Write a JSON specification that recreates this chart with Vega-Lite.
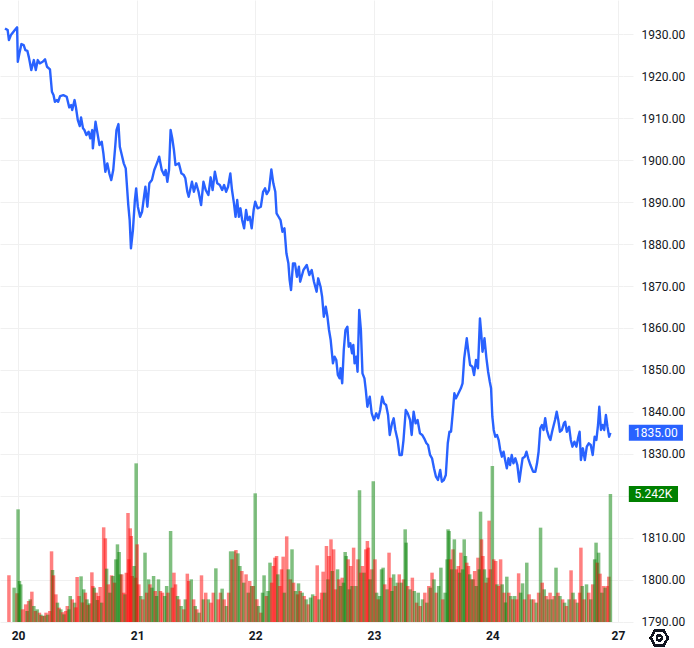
{
  "$schema": "https://vega.github.io/schema/vega-lite/v6.json",
  "width": 623,
  "height": 622,
  "autosize": "none",
  "padding": {"left": 0, "top": 0, "right": 71, "bottom": 26},
  "background": "#ffffff",
  "config": {"view": {"stroke": null}, "font": "Roboto"},
  "datasets": {
    "price": [
      {"t":0,"p":1931.43},{"t":2.7,"p":1931.03},{"t":4,"p":1928.64},{"t":6,"p":1929.84},{"t":10,"p":1931.03},
      {"t":12.3,"p":1931.67},{"t":13,"p":1923.47},{"t":14.7,"p":1925.55},{"t":16.7,"p":1927.69},{"t":19,"p":1927.45},
      {"t":20.7,"p":1926.26},{"t":22.7,"p":1926.09},{"t":24.3,"p":1924.52},{"t":26.7,"p":1921.49},{"t":29.3,"p":1923.88},
      {"t":31.3,"p":1921.49},{"t":33.3,"p":1923.88},{"t":35.3,"p":1923.09},{"t":38.3,"p":1923.47},{"t":40.7,"p":1924.04},
      {"t":42.7,"p":1922.28},{"t":45.7,"p":1921.66},{"t":47.7,"p":1916.32},{"t":49.3,"p":1915.53},{"t":50.7,"p":1913.94},
      {"t":52.7,"p":1914.34},{"t":54,"p":1913.94},{"t":56,"p":1915.3},{"t":59.3,"p":1915.53},{"t":62.7,"p":1915.13},
      {"t":65.3,"p":1912.6},{"t":67.3,"p":1913.15},{"t":68.3,"p":1911.96},{"t":70.7,"p":1914.34},{"t":72,"p":1912.75},
      {"t":74,"p":1909.57},{"t":76,"p":1908.14},{"t":77.3,"p":1910.22},{"t":79.3,"p":1907.6},{"t":80.7,"p":1907.19},
      {"t":82.7,"p":1906.0},{"t":85,"p":1906.79},{"t":86.7,"p":1905.21},{"t":88.7,"p":1907.19},{"t":89.3,"p":1902.83},
      {"t":92,"p":1909.17},{"t":94,"p":1906.4},{"t":96,"p":1903.62},{"t":98.3,"p":1904.4},{"t":100,"p":1901.64},
      {"t":102,"p":1897.25},{"t":104,"p":1899.25},{"t":106,"p":1896.87},{"t":108,"p":1895.27},{"t":110,"p":1897.66},
      {"t":112,"p":1903.21},{"t":113.3,"p":1907.19},{"t":115.3,"p":1908.62},{"t":116.7,"p":1903.21},{"t":118.7,"p":1901.23},
      {"t":120.7,"p":1899.25},{"t":122.7,"p":1898.06},{"t":124,"p":1893.67},{"t":125.3,"p":1889.31},{"t":126.7,"p":1885.74},
      {"t":128,"p":1878.99},{"t":130,"p":1883.35},{"t":132,"p":1890.5},{"t":133.3,"p":1893.29},{"t":135,"p":1888.91},
      {"t":137.3,"p":1886.52},{"t":139.3,"p":1887.72},{"t":141.3,"p":1891.29},{"t":142.7,"p":1893.67},{"t":144.7,"p":1888.91},
      {"t":146.7,"p":1894.49},{"t":149.3,"p":1895.27},{"t":151.7,"p":1897.66},{"t":155,"p":1899.63},{"t":156.7,"p":1900.83},
      {"t":159.3,"p":1897.66},{"t":161.7,"p":1896.46},{"t":163.3,"p":1897.66},{"t":165,"p":1894.87},{"t":166.7,"p":1897.66},
      {"t":168.3,"p":1907.19},{"t":170,"p":1905.21},{"t":171.7,"p":1902.42},{"t":173.3,"p":1898.85},{"t":176.7,"p":1899.25},
      {"t":179.3,"p":1896.87},{"t":181.7,"p":1896.46},{"t":183.3,"p":1895.68},{"t":185.3,"p":1892.48},{"t":186.7,"p":1891.29},
      {"t":190,"p":1894.87},{"t":192,"p":1892.48},{"t":194.3,"p":1894.49},{"t":196.7,"p":1892.48},{"t":199.3,"p":1889.31},
      {"t":201.7,"p":1894.87},{"t":204,"p":1892.89},{"t":206.7,"p":1891.7},{"t":209,"p":1895.92},{"t":211,"p":1892.89},
      {"t":213.3,"p":1897.25},{"t":215.7,"p":1894.49},{"t":218.3,"p":1894.08},{"t":220.7,"p":1892.89},{"t":222.7,"p":1894.08},
      {"t":224.7,"p":1892.48},{"t":226.7,"p":1893.67},{"t":229,"p":1896.87},{"t":230.7,"p":1892.89},{"t":232.7,"p":1889.72},
      {"t":234.3,"p":1886.52},{"t":236,"p":1890.5},{"t":237.7,"p":1886.52},{"t":239.3,"p":1888.53},{"t":241,"p":1885.74},
      {"t":243,"p":1883.76},{"t":245,"p":1888.12},{"t":246.7,"p":1885.74},{"t":248.7,"p":1886.52},{"t":250.7,"p":1883.76},
      {"t":252.7,"p":1888.12},{"t":254.3,"p":1890.1},{"t":256.7,"p":1888.53},{"t":260,"p":1888.91},{"t":262.3,"p":1892.48},
      {"t":264.3,"p":1893.29},{"t":266,"p":1891.93},{"t":268.3,"p":1892.89},{"t":270.7,"p":1897.82},{"t":272.7,"p":1894.49},
      {"t":274.7,"p":1892.48},{"t":276,"p":1887.33},{"t":278,"p":1886.52},{"t":280,"p":1885.74},{"t":282,"p":1882.95},
      {"t":284,"p":1883.76},{"t":286,"p":1877.8},{"t":288,"p":1875.41},{"t":289.3,"p":1871.43},{"t":290.7,"p":1869.05},
      {"t":292.7,"p":1875.41},{"t":294.7,"p":1875.41},{"t":296.7,"p":1872.22},{"t":298.7,"p":1874.6},{"t":300,"p":1871.03},
      {"t":303.3,"p":1873.82},{"t":306.7,"p":1875.01},{"t":309.3,"p":1872.63},{"t":311.7,"p":1873.82},{"t":314,"p":1871.03},
      {"t":316.7,"p":1868.65},{"t":318.3,"p":1871.84},{"t":320.7,"p":1869.84},{"t":322.3,"p":1867.45},{"t":324,"p":1862.69},
      {"t":326,"p":1865.07},{"t":327.7,"p":1862.69},{"t":329.3,"p":1859.52},{"t":331,"p":1857.13},{"t":332.3,"p":1853.96},
      {"t":333.3,"p":1851.58},{"t":335,"p":1853.15},{"t":336.7,"p":1852.36},{"t":338.3,"p":1848.79},{"t":340,"p":1848.0},
      {"t":341,"p":1850.39},{"t":342.7,"p":1846.81},{"t":344.3,"p":1854.75},{"t":346,"p":1859.52},{"t":348,"p":1860.3},
      {"t":349.3,"p":1855.53},{"t":351,"p":1856.34},{"t":352.7,"p":1853.96},{"t":354,"p":1855.94},{"t":355.3,"p":1851.58},
      {"t":357,"p":1853.15},{"t":358.3,"p":1849.57},{"t":360,"p":1864.28},{"t":361.7,"p":1859.52},{"t":363.3,"p":1849.19},
      {"t":365.3,"p":1848.0},{"t":366.7,"p":1845.21},{"t":368.3,"p":1841.23},{"t":370.7,"p":1843.62},{"t":372.7,"p":1839.66},
      {"t":375,"p":1838.06},{"t":377.3,"p":1839.66},{"t":379.3,"p":1838.47},{"t":381.3,"p":1840.44},{"t":383.3,"p":1843.62},
      {"t":385.3,"p":1842.04},{"t":387.3,"p":1841.64},{"t":389.3,"p":1839.25},{"t":391,"p":1834.49},{"t":393.3,"p":1837.27},
      {"t":395,"p":1838.47},{"t":396.7,"p":1835.68},{"t":399,"p":1833.29},{"t":401,"p":1829.72},{"t":403.3,"p":1829.72},
      {"t":405,"p":1833.29},{"t":407.3,"p":1840.44},{"t":409.3,"p":1839.66},{"t":411.7,"p":1838.06},{"t":413.3,"p":1834.49},
      {"t":415.3,"p":1840.04},{"t":417.3,"p":1837.27},{"t":419.3,"p":1838.06},{"t":421.7,"p":1834.89},{"t":424,"p":1834.49},
      {"t":426,"p":1833.7},{"t":428.3,"p":1832.51},{"t":430,"p":1832.1},{"t":432,"p":1829.72},{"t":434,"p":1828.93},
      {"t":436,"p":1826.55},{"t":438,"p":1824.54},{"t":440,"p":1823.76},{"t":442.3,"p":1826.14},{"t":444,"p":1823.35},
      {"t":446,"p":1823.76},{"t":448,"p":1824.95},{"t":450,"p":1832.51},{"t":451.7,"p":1835.27},{"t":453.3,"p":1835.27},
      {"t":455,"p":1839.66},{"t":456.7,"p":1844.43},{"t":458.3,"p":1843.23},{"t":460,"p":1844.02},{"t":463.3,"p":1845.62},
      {"t":465,"p":1846.81},{"t":466.7,"p":1852.77},{"t":469.3,"p":1857.54},{"t":470.7,"p":1854.75},{"t":472.7,"p":1851.17},
      {"t":475,"p":1850.77},{"t":476.7,"p":1848.79},{"t":478.7,"p":1852.36},{"t":480.7,"p":1850.39},{"t":482.7,"p":1862.3},
      {"t":484,"p":1858.73},{"t":485.3,"p":1854.34},{"t":487.3,"p":1857.54},{"t":489.3,"p":1852.77},{"t":491,"p":1849.57},
      {"t":492.7,"p":1847.19},{"t":494,"p":1845.62},{"t":495.3,"p":1838.85},{"t":496.7,"p":1835.68},{"t":498.3,"p":1834.08},
      {"t":500,"p":1834.49},{"t":501.7,"p":1833.29},{"t":503.3,"p":1830.91},{"t":505,"p":1829.31},{"t":506.7,"p":1830.5},
      {"t":508.3,"p":1828.52},{"t":510,"p":1826.55},{"t":511.7,"p":1828.93},{"t":513.3,"p":1827.33},{"t":515,"p":1829.72},
      {"t":516.7,"p":1827.74},{"t":518.7,"p":1828.93},{"t":520.7,"p":1827.33},{"t":522.7,"p":1823.35},{"t":524.3,"p":1826.14},
      {"t":526,"p":1828.93},{"t":528.3,"p":1829.31},{"t":530,"p":1830.5},{"t":531.7,"p":1828.93},{"t":534,"p":1827.33},
      {"t":536.7,"p":1825.74},{"t":539,"p":1825.74},{"t":540.7,"p":1827.74},{"t":542.3,"p":1830.5},{"t":544,"p":1836.08},
      {"t":545.7,"p":1836.87},{"t":547.3,"p":1835.68},{"t":549,"p":1838.47},{"t":550.7,"p":1835.68},{"t":552.7,"p":1834.08},
      {"t":554.3,"p":1833.29},{"t":556,"p":1835.27},{"t":557.7,"p":1836.87},{"t":559,"p":1838.06},{"t":560.7,"p":1840.04},
      {"t":562.3,"p":1838.06},{"t":564,"p":1835.27},{"t":566,"p":1835.68},{"t":568,"p":1837.27},{"t":569.3,"p":1837.66},
      {"t":571,"p":1835.27},{"t":573.3,"p":1836.46},{"t":575,"p":1833.29},{"t":576.7,"p":1831.7},{"t":578.7,"p":1832.89},
      {"t":580.7,"p":1831.7},{"t":582.7,"p":1834.08},{"t":584,"p":1835.27},{"t":585.3,"p":1828.52},{"t":587.3,"p":1831.31},
      {"t":589.3,"p":1828.52},{"t":591.3,"p":1831.7},{"t":593.3,"p":1832.51},{"t":595.3,"p":1832.1},{"t":597.3,"p":1829.72},
      {"t":599.3,"p":1834.08},{"t":601,"p":1833.29},{"t":602.7,"p":1836.87},{"t":604,"p":1841.23},{"t":605.7,"p":1835.68},
      {"t":607.3,"p":1836.87},{"t":609,"p":1835.68},{"t":610.7,"p":1839.25},{"t":612.3,"p":1836.46},{"t":614,"p":1834.08},
      {"t":615.3,"p":1835.0}
    ],
    "volume": [
      {"t":4,"v":1911,"dir":"dn"},{"t":9.3,"v":1406,"dir":"up"},{"t":12.3,"v":1174,"dir":"dn"},{"t":13.3,"v":4614,"dir":"up"},
      {"t":14.7,"v":1679,"dir":"up"},{"t":16,"v":1542,"dir":"up"},{"t":18,"v":520,"dir":"dn"},{"t":21,"v":723,"dir":"dn"},
      {"t":22.5,"v":450,"dir":"up"},{"t":24,"v":860,"dir":"dn"},{"t":25.7,"v":928,"dir":"up"},{"t":27.3,"v":1242,"dir":"dn"},
      {"t":29.3,"v":655,"dir":"up"},{"t":31,"v":450,"dir":"dn"},{"t":32.7,"v":519,"dir":"up"},{"t":35,"v":382,"dir":"dn"},
      {"t":36.5,"v":300,"dir":"up"},{"t":38,"v":246,"dir":"dn"},{"t":40,"v":260,"dir":"up"},{"t":41.7,"v":382,"dir":"dn"},
      {"t":43.5,"v":300,"dir":"up"},{"t":45.5,"v":450,"dir":"dn"},{"t":47.3,"v":2894,"dir":"dn"},{"t":48.3,"v":2129,"dir":"up"},
      {"t":49.3,"v":1911,"dir":"dn"},{"t":51.7,"v":1133,"dir":"dn"},{"t":53.3,"v":792,"dir":"up"},{"t":55,"v":587,"dir":"dn"},
      {"t":56.7,"v":519,"dir":"up"},{"t":58.5,"v":400,"dir":"dn"},{"t":60,"v":314,"dir":"up"},{"t":61.7,"v":450,"dir":"dn"},
      {"t":63.3,"v":655,"dir":"dn"},{"t":65,"v":520,"dir":"up"},{"t":66.3,"v":1065,"dir":"up"},{"t":68.3,"v":928,"dir":"dn"},
      {"t":70.7,"v":792,"dir":"up"},{"t":72,"v":600,"dir":"dn"},{"t":73.3,"v":1843,"dir":"dn"},{"t":75.3,"v":1065,"dir":"dn"},
      {"t":77.3,"v":1870,"dir":"up"},{"t":78.7,"v":800,"dir":"dn"},{"t":80,"v":1338,"dir":"up"},{"t":81.7,"v":1201,"dir":"dn"},
      {"t":83.3,"v":928,"dir":"up"},{"t":84.7,"v":700,"dir":"dn"},{"t":86,"v":764,"dir":"up"},{"t":88.3,"v":2034,"dir":"dn"},
      {"t":89.3,"v":1474,"dir":"dn"},{"t":90.7,"v":1406,"dir":"up"},{"t":92.7,"v":1201,"dir":"dn"},{"t":94,"v":900,"dir":"up"},
      {"t":95,"v":1065,"dir":"dn"},{"t":96.7,"v":1433,"dir":"dn"},{"t":98.3,"v":792,"dir":"up"},{"t":100.3,"v":3877,"dir":"dn"},
      {"t":102,"v":3426,"dir":"dn"},{"t":103.3,"v":2184,"dir":"up"},{"t":105,"v":1542,"dir":"dn"},{"t":106.7,"v":1201,"dir":"up"},
      {"t":108.3,"v":1911,"dir":"dn"},{"t":109.7,"v":1884,"dir":"up"},{"t":111.3,"v":1611,"dir":"dn"},{"t":112.7,"v":2566,"dir":"up"},
      {"t":114.3,"v":3180,"dir":"up"},{"t":116,"v":2866,"dir":"up"},{"t":117.3,"v":1952,"dir":"up"},{"t":118.7,"v":1952,"dir":"dn"},
      {"t":120.7,"v":1201,"dir":"dn"},{"t":122,"v":1133,"dir":"up"},{"t":123.3,"v":2020,"dir":"dn"},{"t":125,"v":4464,"dir":"dn"},
      {"t":126,"v":2566,"dir":"dn"},{"t":127.3,"v":3836,"dir":"dn"},{"t":128.3,"v":3522,"dir":"dn"},{"t":129.3,"v":1884,"dir":"dn"},
      {"t":131.3,"v":2293,"dir":"up"},{"t":132.7,"v":1815,"dir":"dn"},{"t":133.3,"v":6497,"dir":"up"},{"t":134.3,"v":3180,"dir":"dn"},
      {"t":136,"v":1542,"dir":"dn"},{"t":138,"v":1065,"dir":"up"},{"t":140,"v":928,"dir":"dn"},{"t":142.3,"v":2839,"dir":"up"},
      {"t":144,"v":1201,"dir":"dn"},{"t":146,"v":1747,"dir":"up"},{"t":147.3,"v":1542,"dir":"dn"},{"t":149.3,"v":1406,"dir":"up"},
      {"t":151,"v":1884,"dir":"up"},{"t":152.7,"v":1269,"dir":"dn"},{"t":154,"v":1065,"dir":"up"},{"t":156,"v":1747,"dir":"up"},
      {"t":158,"v":1269,"dir":"dn"},{"t":160,"v":1201,"dir":"dn"},{"t":162.3,"v":1065,"dir":"up"},{"t":164.3,"v":1474,"dir":"up"},
      {"t":165.7,"v":1201,"dir":"dn"},{"t":168.3,"v":3726,"dir":"up"},{"t":170,"v":1406,"dir":"dn"},{"t":171.7,"v":2020,"dir":"dn"},
      {"t":173.3,"v":1542,"dir":"dn"},{"t":175.3,"v":1065,"dir":"up"},{"t":176.7,"v":928,"dir":"dn"},{"t":179,"v":655,"dir":"up"},
      {"t":181.7,"v":519,"dir":"dn"},{"t":183.3,"v":928,"dir":"up"},{"t":185.3,"v":1979,"dir":"dn"},{"t":186.7,"v":1679,"dir":"dn"},
      {"t":189.3,"v":1747,"dir":"up"},{"t":191.7,"v":928,"dir":"dn"},{"t":193.3,"v":655,"dir":"up"},{"t":195,"v":519,"dir":"dn"},
      {"t":197.3,"v":382,"dir":"up"},{"t":199.7,"v":1911,"dir":"dn"},{"t":201.7,"v":928,"dir":"up"},{"t":204,"v":1201,"dir":"dn"},
      {"t":206.7,"v":928,"dir":"up"},{"t":209.3,"v":792,"dir":"dn"},{"t":211.7,"v":1201,"dir":"dn"},{"t":214.3,"v":2198,"dir":"up"},
      {"t":216.7,"v":928,"dir":"dn"},{"t":219,"v":1201,"dir":"dn"},{"t":220.7,"v":1365,"dir":"up"},{"t":222.7,"v":928,"dir":"dn"},
      {"t":225,"v":655,"dir":"up"},{"t":227.3,"v":1201,"dir":"dn"},{"t":229.3,"v":2894,"dir":"up"},{"t":230.7,"v":2566,"dir":"dn"},
      {"t":232.7,"v":2894,"dir":"up"},{"t":234.7,"v":2948,"dir":"dn"},{"t":236.7,"v":2812,"dir":"up"},{"t":238.7,"v":2293,"dir":"up"},
      {"t":240.7,"v":2088,"dir":"dn"},{"t":242.7,"v":1611,"dir":"up"},{"t":245,"v":1952,"dir":"dn"},{"t":247.3,"v":1201,"dir":"up"},
      {"t":248.7,"v":1679,"dir":"dn"},{"t":250.7,"v":1474,"dir":"up"},{"t":252.3,"v":1474,"dir":"dn"},{"t":254.3,"v":5269,"dir":"up"},
      {"t":256,"v":928,"dir":"dn"},{"t":257.7,"v":655,"dir":"up"},{"t":260,"v":382,"dir":"dn"},{"t":261.7,"v":1201,"dir":"up"},
      {"t":263.3,"v":1911,"dir":"up"},{"t":265.7,"v":1065,"dir":"dn"},{"t":267.3,"v":1269,"dir":"up"},{"t":269.3,"v":2430,"dir":"up"},
      {"t":271,"v":1611,"dir":"dn"},{"t":272.7,"v":2293,"dir":"dn"},{"t":274.3,"v":2634,"dir":"dn"},{"t":276,"v":2703,"dir":"dn"},
      {"t":277.3,"v":1952,"dir":"up"},{"t":279.3,"v":1474,"dir":"dn"},{"t":281,"v":2157,"dir":"dn"},{"t":282.7,"v":2675,"dir":"dn"},
      {"t":284,"v":1201,"dir":"up"},{"t":286.3,"v":3508,"dir":"dn"},{"t":288,"v":2157,"dir":"up"},{"t":290,"v":1747,"dir":"dn"},
      {"t":291.7,"v":2976,"dir":"up"},{"t":293.3,"v":1611,"dir":"dn"},{"t":295.3,"v":1269,"dir":"up"},{"t":297.3,"v":1133,"dir":"dn"},
      {"t":298.3,"v":1583,"dir":"up"},{"t":300,"v":1269,"dir":"dn"},{"t":302,"v":1201,"dir":"up"},{"t":304,"v":1065,"dir":"dn"},
      {"t":306,"v":928,"dir":"up"},{"t":308.3,"v":723,"dir":"dn"},{"t":310.5,"v":1000,"dir":"up"},{"t":312.7,"v":1133,"dir":"up"},
      {"t":315,"v":1065,"dir":"dn"},{"t":317.3,"v":2321,"dir":"dn"},{"t":319.3,"v":928,"dir":"up"},{"t":321.7,"v":1201,"dir":"dn"},
      {"t":323.3,"v":2061,"dir":"dn"},{"t":325,"v":1201,"dir":"up"},{"t":326.7,"v":3112,"dir":"dn"},{"t":328.3,"v":1747,"dir":"up"},
      {"t":329.3,"v":2703,"dir":"dn"},{"t":331.3,"v":3385,"dir":"dn"},{"t":332.7,"v":2088,"dir":"up"},{"t":334,"v":2976,"dir":"dn"},
      {"t":336,"v":1338,"dir":"dn"},{"t":338,"v":2157,"dir":"up"},{"t":339.3,"v":1747,"dir":"dn"},{"t":341,"v":1474,"dir":"up"},
      {"t":342.7,"v":1815,"dir":"dn"},{"t":344,"v":1611,"dir":"up"},{"t":345.7,"v":2867,"dir":"up"},{"t":346.7,"v":2703,"dir":"up"},
      {"t":348.7,"v":2566,"dir":"dn"},{"t":350,"v":1338,"dir":"up"},{"t":351.3,"v":2293,"dir":"dn"},{"t":352.7,"v":1474,"dir":"up"},
      {"t":354.3,"v":3044,"dir":"dn"},{"t":356.7,"v":1474,"dir":"up"},{"t":358.7,"v":2566,"dir":"dn"},{"t":360.3,"v":5392,"dir":"up"},
      {"t":361.7,"v":2020,"dir":"dn"},{"t":363.3,"v":2293,"dir":"dn"},{"t":365,"v":2020,"dir":"up"},{"t":366.7,"v":2976,"dir":"dn"},
      {"t":368.3,"v":3317,"dir":"dn"},{"t":369.3,"v":3044,"dir":"dn"},{"t":371,"v":1747,"dir":"up"},{"t":372.7,"v":2157,"dir":"dn"},
      {"t":374.3,"v":5760,"dir":"up"},{"t":376,"v":2566,"dir":"dn"},{"t":377.7,"v":1201,"dir":"up"},{"t":379.3,"v":928,"dir":"dn"},
      {"t":380.7,"v":1065,"dir":"up"},{"t":382.7,"v":2157,"dir":"up"},{"t":384.3,"v":2225,"dir":"up"},{"t":386,"v":1542,"dir":"dn"},
      {"t":388.3,"v":1338,"dir":"up"},{"t":390.3,"v":2839,"dir":"dn"},{"t":392,"v":1815,"dir":"dn"},{"t":393.3,"v":1269,"dir":"up"},
      {"t":395,"v":1952,"dir":"up"},{"t":396.7,"v":1474,"dir":"dn"},{"t":398.7,"v":1611,"dir":"up"},{"t":400.7,"v":1952,"dir":"dn"},
      {"t":402.7,"v":1611,"dir":"up"},{"t":405,"v":1747,"dir":"dn"},{"t":406.7,"v":3795,"dir":"up"},{"t":407.7,"v":3249,"dir":"up"},
      {"t":409.3,"v":1474,"dir":"dn"},{"t":411.7,"v":1338,"dir":"up"},{"t":414,"v":1815,"dir":"dn"},{"t":416,"v":1269,"dir":"up"},
      {"t":418.3,"v":792,"dir":"dn"},{"t":420,"v":1201,"dir":"up"},{"t":422,"v":655,"dir":"dn"},{"t":424.3,"v":928,"dir":"up"},
      {"t":426.7,"v":1201,"dir":"dn"},{"t":428.7,"v":792,"dir":"up"},{"t":430.7,"v":1474,"dir":"dn"},{"t":432.3,"v":1406,"dir":"up"},
      {"t":434,"v":2020,"dir":"dn"},{"t":436,"v":1747,"dir":"up"},{"t":438.3,"v":1201,"dir":"dn"},{"t":440.7,"v":1474,"dir":"up"},
      {"t":443,"v":2225,"dir":"up"},{"t":445,"v":928,"dir":"dn"},{"t":447.3,"v":1201,"dir":"up"},{"t":449.3,"v":2566,"dir":"up"},
      {"t":450.3,"v":3795,"dir":"up"},{"t":451.3,"v":3726,"dir":"up"},{"t":452.7,"v":2566,"dir":"dn"},{"t":454,"v":2157,"dir":"up"},
      {"t":455.3,"v":2976,"dir":"dn"},{"t":456.7,"v":3385,"dir":"up"},{"t":458.7,"v":2157,"dir":"dn"},{"t":460.7,"v":2293,"dir":"dn"},
      {"t":462,"v":2020,"dir":"up"},{"t":463.3,"v":2839,"dir":"dn"},{"t":465,"v":2157,"dir":"up"},{"t":466.7,"v":3385,"dir":"up"},
      {"t":468,"v":2703,"dir":"up"},{"t":469.3,"v":2430,"dir":"dn"},{"t":471,"v":2293,"dir":"dn"},{"t":472.3,"v":1952,"dir":"up"},
      {"t":474,"v":1747,"dir":"dn"},{"t":475.7,"v":1747,"dir":"up"},{"t":477.3,"v":2088,"dir":"dn"},{"t":479,"v":1474,"dir":"up"},
      {"t":480.7,"v":2634,"dir":"dn"},{"t":482,"v":2157,"dir":"up"},{"t":483.3,"v":4518,"dir":"up"},{"t":484.3,"v":3385,"dir":"dn"},
      {"t":485.7,"v":2703,"dir":"dn"},{"t":487.3,"v":2157,"dir":"up"},{"t":489,"v":1611,"dir":"dn"},{"t":490.7,"v":1815,"dir":"up"},
      {"t":492,"v":4150,"dir":"dn"},{"t":493.3,"v":2157,"dir":"dn"},{"t":495.3,"v":6388,"dir":"up"},{"t":496.7,"v":2566,"dir":"dn"},
      {"t":498.7,"v":2498,"dir":"dn"},{"t":500,"v":1542,"dir":"up"},{"t":501.7,"v":1474,"dir":"dn"},{"t":503.7,"v":2566,"dir":"dn"},
      {"t":505.3,"v":1542,"dir":"up"},{"t":507.3,"v":1201,"dir":"dn"},{"t":508.7,"v":800,"dir":"up"},{"t":510,"v":1856,"dir":"up"},
      {"t":512,"v":1201,"dir":"dn"},{"t":514,"v":1065,"dir":"up"},{"t":516,"v":928,"dir":"dn"},{"t":518,"v":1065,"dir":"up"},
      {"t":520,"v":928,"dir":"dn"},{"t":522,"v":1993,"dir":"dn"},{"t":524,"v":1201,"dir":"up"},{"t":526,"v":1583,"dir":"up"},
      {"t":528,"v":928,"dir":"dn"},{"t":530.3,"v":2430,"dir":"up"},{"t":532.7,"v":1133,"dir":"dn"},{"t":535,"v":928,"dir":"up"},
      {"t":537.3,"v":928,"dir":"dn"},{"t":540,"v":792,"dir":"up"},{"t":542.3,"v":1201,"dir":"dn"},{"t":544.3,"v":3863,"dir":"up"},
      {"t":546,"v":1611,"dir":"dn"},{"t":548,"v":1338,"dir":"up"},{"t":550,"v":1065,"dir":"dn"},{"t":552,"v":928,"dir":"up"},
      {"t":554,"v":1201,"dir":"dn"},{"t":556,"v":928,"dir":"up"},{"t":558,"v":1065,"dir":"dn"},{"t":560,"v":2225,"dir":"up"},
      {"t":562,"v":1201,"dir":"dn"},{"t":564,"v":1065,"dir":"up"},{"t":566.7,"v":928,"dir":"dn"},{"t":568.7,"v":792,"dir":"up"},
      {"t":570.7,"v":655,"dir":"dn"},{"t":573.3,"v":928,"dir":"up"},{"t":575.3,"v":2116,"dir":"dn"},{"t":577.3,"v":1201,"dir":"up"},
      {"t":579.3,"v":928,"dir":"dn"},{"t":581.7,"v":792,"dir":"up"},{"t":584,"v":1201,"dir":"dn"},{"t":585.3,"v":3044,"dir":"dn"},
      {"t":586.7,"v":1474,"dir":"up"},{"t":588.7,"v":928,"dir":"dn"},{"t":591,"v":1542,"dir":"up"},{"t":593.3,"v":1201,"dir":"dn"},
      {"t":595.3,"v":928,"dir":"up"},{"t":597.3,"v":1542,"dir":"dn"},{"t":599.3,"v":2566,"dir":"up"},{"t":600.7,"v":3249,"dir":"up"},
      {"t":602,"v":2430,"dir":"dn"},{"t":603.3,"v":2839,"dir":"up"},{"t":604.7,"v":1979,"dir":"dn"},{"t":606.7,"v":1201,"dir":"up"},
      {"t":608.3,"v":1474,"dir":"dn"},{"t":610,"v":1406,"dir":"up"},{"t":612,"v":1474,"dir":"dn"},{"t":613.7,"v":1856,"dir":"dn"},
      {"t":615.3,"v":5242,"dir":"up"}
    ]
  },
  "layer": [
    {
      "data": {"name": "volume"},
      "encoding": {
        "x": {
          "field": "t", "type": "quantitative",
          "scale": {"domain": [0, 623], "nice": false, "zero": false},
          "axis": {
            "values": [13.3, 134.3, 254.3, 375, 495.3, 623],
            "labelExpr": "datum.value < 50 ? '20' : datum.value < 200 ? '21' : datum.value < 300 ? '22' : datum.value < 420 ? '23' : datum.value < 550 ? '24' : '27'",
            "title": null, "grid": true, "gridColor": "#f0f0f0", "domain": false, "ticks": false,
            "labelFont": "Roboto", "labelFontSize": 12, "labelFontWeight": "bold", "labelColor": "#131722",
            "labelPadding": 8, "labelFlush": false, "zindex": 0
          }
        },
        "y": {"field": "v", "type": "quantitative", "scale": {"domain": [0, 25470], "nice": false}, "axis": null}
      },
      "layer": [
        {
          "mark": {"type": "bar", "width": 3.5, "opacity": 0.5},
          "encoding": {
            "color": {"field": "dir", "type": "nominal", "scale": {"domain": ["up", "dn"], "range": ["#008000", "#ff0000"]}, "legend": null}
          }
        },
        {
          "transform": [
            {"joinaggregate": [{"op": "max", "field": "t", "as": "tmax"}]},
            {"filter": "datum.t == datum.tmax"}
          ],
          "mark": {"type": "rule", "strokeWidth": 16, "color": "#008000"},
          "encoding": {"x": {"datum": 634, "type": "quantitative"}, "x2": {"datum": 684}}
        },
        {
          "transform": [
            {"joinaggregate": [{"op": "max", "field": "t", "as": "tmax"}]},
            {"filter": "datum.t == datum.tmax"},
            {"calculate": "format(datum.v / 1000, '.3f') + 'K'", "as": "lbl"}
          ],
          "mark": {"type": "text", "color": "#ffffff", "font": "Roboto", "fontSize": 12, "align": "center", "baseline": "middle"},
          "encoding": {"x": {"datum": 659, "type": "quantitative"}, "text": {"field": "lbl"}}
        }
      ]
    },
    {
      "data": {"name": "price"},
      "encoding": {
        "x": {
          "field": "t", "type": "quantitative",
          "scale": {"domain": [0, 623], "nice": false, "zero": false},
          "axis": {
            "values": [13.3, 134.3, 254.3, 375, 495.3, 623],
            "labelExpr": "datum.value < 50 ? '20' : datum.value < 200 ? '21' : datum.value < 300 ? '22' : datum.value < 420 ? '23' : datum.value < 550 ? '24' : '27'",
            "title": null, "grid": true, "gridColor": "#f0f0f0", "domain": false, "ticks": false,
            "labelFont": "Roboto", "labelFontSize": 12, "labelFontWeight": "bold", "labelColor": "#131722",
            "labelPadding": 8, "labelFlush": false, "zindex": 0
          }
        },
        "y": {
          "field": "p", "type": "quantitative",
          "scale": {"domain": [1789.9, 1938.2], "nice": false, "zero": false},
          "axis": {
            "orient": "right", "title": null,
            "values": [1790, 1800, 1810, 1820, 1830, 1840, 1850, 1860, 1870, 1880, 1890, 1900, 1910, 1920, 1930],
            "labelExpr": "datum.value == 1820 ? '' : format(datum.value, '.2f')",
            "grid": true, "gridColor": "#f0f0f0", "domain": false,
            "tickColor": "#f0f0f0", "tickSize": 10, "labelPadding": 8,
            "labelFont": "Roboto", "labelFontSize": 12, "labelColor": "#131722", "zindex": 0
          }
        }
      },
      "layer": [
        {"mark": {"type": "line", "color": "#2962ff", "strokeWidth": 2.4, "strokeJoin": "round", "interpolate": "linear"}},
        {
          "transform": [
            {"joinaggregate": [{"op": "max", "field": "t", "as": "tmax"}]},
            {"filter": "datum.t == datum.tmax"}
          ],
          "mark": {"type": "rule", "strokeWidth": 16, "color": "#2962ff"},
          "encoding": {"x": {"datum": 634, "type": "quantitative"}, "x2": {"datum": 689}}
        },
        {
          "transform": [
            {"joinaggregate": [{"op": "max", "field": "t", "as": "tmax"}]},
            {"filter": "datum.t == datum.tmax"}
          ],
          "mark": {"type": "text", "color": "#ffffff", "font": "Roboto", "fontSize": 12, "align": "center", "baseline": "middle"},
          "encoding": {"x": {"datum": 661.5, "type": "quantitative"}, "text": {"field": "p", "format": ".2f"}}
        },
        {
          "mark": {"type": "point", "shape": "M-1,0L-0.5,-0.866L0.5,-0.866L1,0L0.5,0.866L-0.5,0.866Z", "filled": false, "size": 300, "stroke": "#131722", "strokeWidth": 1.4, "opacity": 1},
          "encoding": {"x": {"datum": 665, "type": "quantitative"}, "y": {"datum": 1786.1, "type": "quantitative"}}
        },
        {
          "mark": {"type": "point", "shape": "circle", "filled": false, "size": 28, "stroke": "#131722", "strokeWidth": 1.4, "opacity": 1},
          "encoding": {"x": {"datum": 665, "type": "quantitative"}, "y": {"datum": 1786.1, "type": "quantitative"}}
        }
      ]
    }
  ],
  "resolve": {"scale": {"y": "independent"}}
}
